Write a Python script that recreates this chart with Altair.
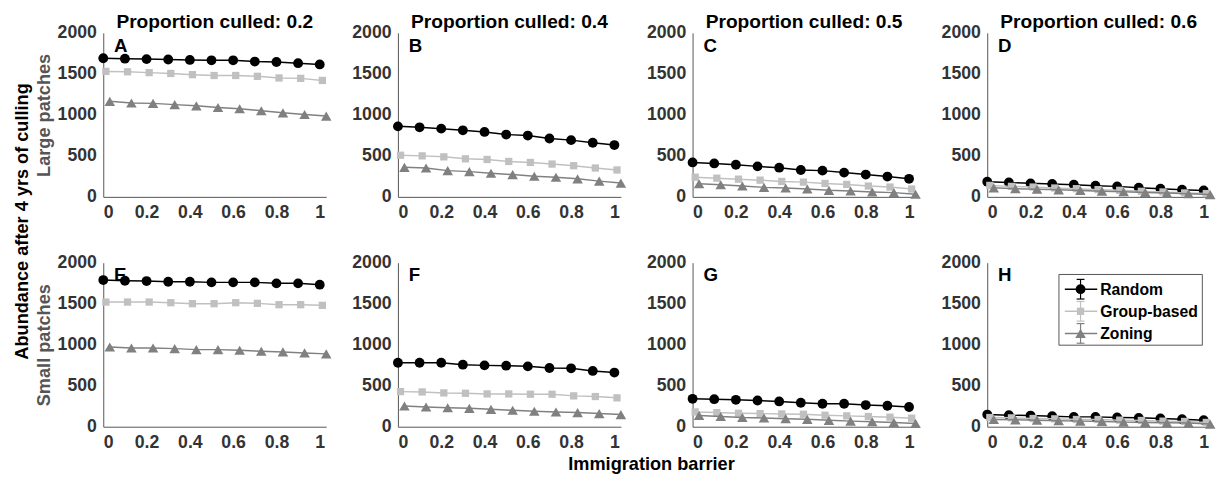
import altair as alt
import pandas as pd

# ---------------- data ----------------
x_vals = [0.0, 0.1, 0.2, 0.3, 0.4, 0.5, 0.6, 0.7, 0.8, 0.9, 1.0]
strategies = ["Random", "Group-based", "Zoning"]
culled_levels = ["0.2", "0.4", "0.5", "0.6"]
patch_types = ["Large patches", "Small patches"]
panel_letters = [["A", "B", "C", "D"], ["E", "F", "G", "H"]]
x_tick_values = [0, 0.2, 0.4, 0.6, 0.8, 1]
y_tick_values = [0, 500, 1000, 1500, 2000]

# Large patches
A_random = [1690, 1685, 1680, 1675, 1670, 1665, 1665, 1650, 1645, 1630, 1615]
A_group = [1530, 1525, 1515, 1505, 1490, 1480, 1480, 1470, 1450, 1445, 1420]
A_zoning = [1165, 1145, 1140, 1125, 1110, 1090, 1075, 1050, 1025, 1005, 985]

B_random = [860, 848, 832, 812, 792, 760, 748, 712, 692, 660, 632]
B_group = [508, 500, 488, 464, 456, 432, 420, 400, 380, 352, 328]
B_zoning = [360, 352, 320, 308, 288, 272, 252, 240, 220, 192, 168]

C_random = [420, 408, 392, 372, 356, 328, 320, 296, 272, 248, 220]
C_group = [240, 228, 216, 204, 188, 180, 164, 152, 132, 120, 96]
C_zoning = [160, 148, 132, 116, 108, 96, 80, 72, 60, 52, 32]

D_random = [185, 175, 165, 158, 148, 136, 128, 112, 100, 88, 78]
D_group = [140, 128, 120, 108, 100, 88, 80, 68, 60, 48, 40]
D_zoning = [110, 100, 94, 86, 78, 70, 62, 54, 46, 38, 28]

# Small patches
E_random = [1788, 1780, 1776, 1768, 1768, 1760, 1760, 1760, 1748, 1748, 1732]
E_group = [1520, 1520, 1520, 1512, 1500, 1500, 1512, 1504, 1488, 1488, 1480]
E_zoning = [972, 960, 960, 952, 940, 940, 932, 920, 912, 900, 888]

F_random = [780, 780, 780, 756, 748, 744, 736, 716, 712, 680, 660]
F_group = [428, 424, 412, 408, 400, 400, 396, 396, 376, 368, 352]
F_zoning = [252, 240, 232, 224, 212, 200, 188, 180, 172, 160, 148]

G_random = [340, 336, 328, 320, 308, 292, 280, 280, 264, 256, 240]
G_group = [180, 172, 164, 160, 156, 152, 140, 132, 124, 116, 104]
G_zoning = [136, 124, 112, 106, 98, 90, 78, 68, 60, 52, 40]

H_random = [148, 140, 136, 128, 120, 120, 112, 108, 100, 92, 80]
H_group = [112, 108, 100, 96, 88, 88, 80, 76, 68, 64, 52]
H_zoning = [88, 84, 80, 72, 68, 64, 56, 52, 48, 44, 32]

series = {
    "A": (A_random, A_group, A_zoning), "B": (B_random, B_group, B_zoning),
    "C": (C_random, C_group, C_zoning), "D": (D_random, D_group, D_zoning),
    "E": (E_random, E_group, E_zoning), "F": (F_random, F_group, F_zoning),
    "G": (G_random, G_group, G_zoning), "H": (H_random, H_group, H_zoning),
}

# slight horizontal offset of each series (as in the figure)
x_offsets = {"Random": 0.0, "Group-based": 0.012, "Zoning": 0.03}

# ---------------- styles ----------------
FONT = "Liberation Sans"
colors = ["#000000", "#c0c0c0", "#808080"]
shapes = ["circle", "square", "triangle-up"]
sizes = [100, 55, 115]
AXIS_GREY = "#555555"
LABEL_GREY = "#333333"

rows = []
for r, patch in enumerate(patch_types):
    for c, cl in enumerate(culled_levels):
        letter = panel_letters[r][c]
        for s, vals in zip(strategies, series[letter]):
            for xv, v in zip(x_vals, vals):
                rows.append({"panel": letter, "strategy": s, "x": xv + x_offsets[s], "value": v})
df = pd.DataFrame(rows)

W, H = 227, 167

color_enc = alt.Color("strategy:N", scale=alt.Scale(domain=strategies, range=colors), legend=None)


def make_legend():
    layers = []
    lx = 73
    layers.append(
        alt.Chart(pd.DataFrame({"a": [0]})).mark_rect(fill="white", stroke=AXIS_GREY, strokeWidth=1).encode(
            x=alt.value(lx), x2=alt.value(lx + 146), y=alt.value(12), y2=alt.value(84))
    )
    for i, s in enumerate(strategies):
        yy = 27 + 22.5 * i
        one = pd.DataFrame({"strategy": [s]})
        col = colors[i]
        layers.append(alt.Chart(one).mark_rule(color=col, strokeWidth=1.5).encode(
            x=alt.value(lx + 6), x2=alt.value(lx + 39), y=alt.value(yy)))
        layers.append(alt.Chart(one).mark_rule(color=col, strokeWidth=1.2).encode(
            x=alt.value(lx + 22), y=alt.value(yy - 10), y2=alt.value(yy + 10)))
        layers.append(alt.Chart(one).mark_rule(color=col, strokeWidth=1.2).encode(
            x=alt.value(lx + 18), x2=alt.value(lx + 26), y=alt.value(yy - 10)))
        layers.append(alt.Chart(one).mark_rule(color=col, strokeWidth=1.2).encode(
            x=alt.value(lx + 18), x2=alt.value(lx + 26), y=alt.value(yy + 10)))
        layers.append(alt.Chart(one).mark_point(filled=True, opacity=1, color=col, shape=shapes[i], size=sizes[i]).encode(
            x=alt.value(lx + 22), y=alt.value(yy)))
        layers.append(alt.Chart(one).mark_text(align="left", baseline="middle", font=FONT, fontWeight="bold",
                                               fontSize=16, color="black").encode(
            x=alt.value(lx + 42), y=alt.value(yy + 1), text="strategy:N"))
    return layers


def panel(r, c):
    letter = panel_letters[r][c]
    sub = df[df["panel"] == letter]
    x_enc = alt.X("x:Q", scale=alt.Scale(domain=[0, 1.03], nice=False, zero=False),
                  axis=alt.Axis(values=x_tick_values, format="~g", title=None))
    y_axis = alt.Axis(values=y_tick_values, format="d",
                      title=patch_types[r] if c == 0 else None)
    y_enc = alt.Y("value:Q", scale=alt.Scale(domain=[0, 2000], nice=False), axis=y_axis)
    base = alt.Chart(sub)
    layers = []
    for i, s in enumerate(strategies):
        sdf = sub[sub["strategy"] == s]
        b = alt.Chart(sdf)
        layers.append(b.mark_line(strokeWidth=1.5, color=colors[i]).encode(x=x_enc, y=y_enc))
        layers.append(b.mark_point(filled=True, opacity=1, color=colors[i], shape=shapes[i],
                                   size=sizes[i]).encode(x=x_enc, y=y_enc))
    lab = alt.Chart(pd.DataFrame({"label": [letter]})).mark_text(
        align="left", baseline="top", font=FONT, fontWeight="bold", fontSize=19, color="black"
    ).encode(x=alt.value(11), y=alt.value(4), text="label:N")
    layers.append(lab)
    if letter == "H":
        layers += make_legend()
    ch = alt.layer(*layers).properties(width=W, height=H)
    if r == 0:
        ch = ch.properties(title=alt.TitleParams("Proportion culled: " + culled_levels[c], font=FONT,
                                                 fontSize=19.5, fontWeight="bold", color="black",
                                                 anchor="middle", offset=-9, frame="group"))
    return ch


row_charts = []
for r in range(2):
    hc = alt.hconcat(*[panel(r, c) for c in range(4)], spacing=73, bounds="flush")
    if r == 1:
        hc = hc.properties(title=alt.TitleParams("Immigration barrier", orient="bottom", anchor="middle",
                                                 font=FONT, fontSize=18.5, fontWeight="bold",
                                                 color="black", offset=4, dx=27))
    row_charts.append(hc)

chart = alt.vconcat(*row_charts, spacing=33).properties(
    title=alt.TitleParams("Abundance after 4 yrs of culling", orient="left", anchor="middle",
                          font=FONT, fontSize=18.5, fontWeight="bold", color="black", offset=3, dx=22),
    padding={"left": 5, "top": 0, "right": 5, "bottom": 5},
).configure_view(strokeWidth=0).configure_axis(
    labelFont=FONT, labelFontWeight="bold", labelFontSize=18, labelColor=LABEL_GREY,
    domainColor=AXIS_GREY, domainWidth=1, ticks=False, grid=False, labelPadding=7,
    titleFont=FONT, titleFontWeight="bold", titleFontSize=18.5, titleColor="#555555", titlePadding=4,
)

chart.save("out.html", embed_options={"renderer": "svg", "actions": False})
